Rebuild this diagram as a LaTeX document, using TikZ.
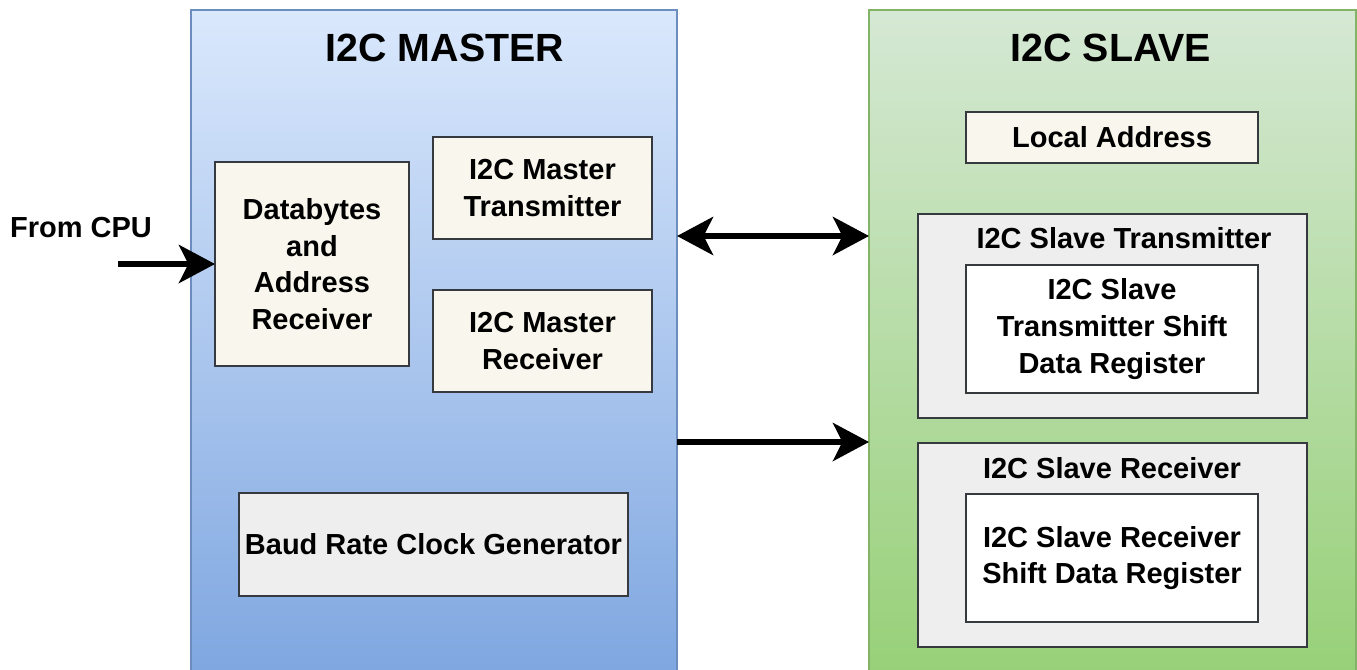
\documentclass[tikz,border=0pt]{standalone}
\usepackage{fontspec}
\setmainfont{Liberation Sans}
\usetikzlibrary{arrows.meta,fit}
\definecolor{mtop}{HTML}{DAE8FC}
\definecolor{mbot}{HTML}{7EA6E0}
\definecolor{mline}{HTML}{6C8EBF}
\definecolor{stop}{HTML}{D5E8D4}
\definecolor{sbot}{HTML}{97D077}
\definecolor{sline}{HTML}{82B366}
\definecolor{cream}{HTML}{F9F7ED}
\definecolor{grayfill}{HTML}{EEEEEE}
\definecolor{boxline}{HTML}{36393D}
\tikzset{
  body/.style={font=\bfseries\fontsize{21.75pt}{27.5pt}\selectfont, align=center, inner sep=0pt},
  titlefont/.style={font=\bfseries\fontsize{29.5pt}{35pt}\selectfont},
  boxbase/.style={inner sep=0pt, outer sep=0pt, line width=1.5pt},
  masterbox/.style={boxbase, draw=mline, top color=mtop, bottom color=mbot},
  slavebox/.style={boxbase, draw=sline, top color=stop, bottom color=sbot},
  creambox/.style={boxbase, draw=boxline, fill=cream},
  graybox/.style={boxbase, draw=boxline, fill=grayfill},
  whitebox/.style={boxbase, draw=boxline, fill=white},
  bigarrow/.style={line width=4.5pt, -{Stealth[length=27pt, width=28.5pt, inset=7pt]}},
  dblarrow/.style={line width=4.5pt, {Stealth[length=27pt, width=28.5pt, inset=7pt]}-{Stealth[length=27pt, width=28.5pt, inset=7pt]}}
}
\begin{document}
\begin{tikzpicture}[x=0.75pt,y=-0.75pt]
\useasboundingbox (0,0) rectangle (1357,669);
\clip (0,0) rectangle (1357,669);
\fill[white] (0,0) rectangle (1357,669);

% outer containers
\node[masterbox, fit={(191,10) (677,680)}] (master) {};
\node[slavebox, fit={(869,10) (1356,680)}] (slave) {};
\node[titlefont] (mtitle) at (445,48) {I2C MASTER};
\node[titlefont] (stitle) at (1111,48) {I2C SLAVE};

% master internals
\node[creambox, fit={(215,162) (409,366)}] (db) {};
\node[body] (dbt) at (db.center) {Databytes\\and\\Address\\Receiver};
\node[creambox, fit={(433,137) (652,239)}] (mt) {};
\node[body] (mtt) at (mt.center) {I2C Master\\Transmitter};
\node[creambox, fit={(433,290) (652,392)}] (mr) {};
\node[body] (mrt) at (mr.center) {I2C Master\\Receiver};
\node[graybox, fit={(239,493) (628,596)}] (baud) {};
\node[body] (baudt) at (baud.center) {Baud Rate Clock Generator};

% slave internals
\node[creambox, fit={(966,112) (1258,163)}] (la) {};
\node[body] (lat) at (la.center) {Local Address};
\node[graybox, fit={(918,214) (1307,418)}] (stx) {};
\node[body] (stxl) at (1124,238) {I2C Slave Transmitter};
\node[whitebox, fit={(966,265) (1258,393)}] (stxr) {};
\node[body] (stxrt) at (stxr.center) {I2C Slave\\Transmitter Shift\\Data Register};
\node[graybox, fit={(918,443) (1307,647)}] (srx) {};
\node[body] (srxl) at (1112,468) {I2C Slave Receiver};
\node[whitebox, fit={(966,494) (1258,622)}] (srxr) {};
\node[body] (srxrt) at (srxr.center) {I2C Slave Receiver\\Shift Data Register};

% CPU input
\node[body] (cpu) at (81,228) {From CPU};
\coordinate (cpuin) at (118,264);
\draw[bigarrow] (cpuin) -- (db.west);

% links
\coordinate (l1) at (677,236);
\coordinate (r1) at (869,236);
\coordinate (l2) at (677,442);
\coordinate (r2) at (869,442);
\draw[dblarrow] (l1) -- (r1);
\draw[bigarrow] (l2) -- (r2);
\end{tikzpicture}
\end{document}
